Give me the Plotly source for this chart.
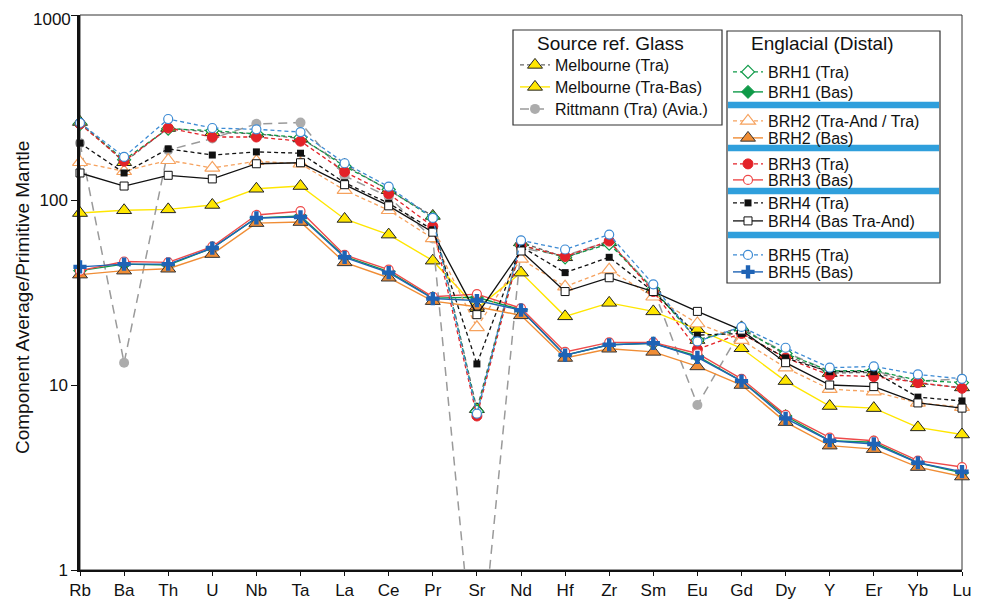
import plotly.graph_objects as go

elements = ["Rb", "Ba", "Th", "U", "Nb", "Ta", "La", "Ce", "Pr", "Sr", "Nd",
            "Hf", "Zr", "Sm", "Eu", "Gd", "Dy", "Y", "Er", "Yb", "Lu"]

melb_tra = [264, 160, 245, 232, 228, 215, 155, 113, 82, 7.4, 59, 49, 59, 33, 17.5, 20.5, 14.5, 11.6, 11.7, 10.2, 9.7]
melb_trabas = [85, 88, 89, 94, 115, 119, 79, 65, 47, 26, 40.5, 23.5, 27.8, 25, 20, 15.8, 10.5, 7.7, 7.5, 5.9, 5.4]
rittmann = [203, 13.2, 186, 215, 258, 262, 135, 104, 62, 0.2, 55, 50, 60, 33, 7.8, 20, 15, 11.9, 11.9, 10.5, 10.8]

brh1_tra = [258, 165, 243, 237, 228, 218, 152, 114, 80, 7.2, 57, 49, 58, 33, 17.5, 20, 14.8, 11.9, 12.0, 10.6, 10.3]
brh1_bas = [41.5, 45, 44.5, 55, 80, 82, 49.5, 41, 29.5, 29.8, 25.5, 14.5, 16.5, 16.8, 14.3, 10.5, 6.8, 5.0, 4.9, 3.8, 3.35]
brh2_tra = [160, 143, 164, 149, 162, 157, 113, 88, 62, 20.5, 48, 34, 42, 30, 21.5, 17.5, 12.4, 9.5, 9.2, 8.0, 7.6]
brh2_bas = [39.5, 41.5, 42.5, 51, 75, 76, 46, 38, 28.4, 26.5, 23.8, 14, 15.7, 15.1, 12.6, 10.0, 6.3, 4.7, 4.5, 3.6, 3.2]
brh3_tra = [258, 162, 245, 219, 219, 208, 142, 108, 72, 6.8, 57, 49.5, 60, 32, 15.6, 19, 14, 11.3, 11.1, 10.3, 9.6]
brh3_bas = [41.5, 46.5, 46, 56, 83, 87, 50.5, 42, 30, 31, 26, 15.1, 17, 17, 14.8, 10.8, 6.9, 5.2, 5.0, 3.9, 3.6]
brh4_tra = [203, 140, 189, 175, 182, 179, 124, 96, 69, 13, 56, 40.5, 49, 32, 18.6, 19, 14, 11.8, 11.8, 8.6, 8.2]
brh4_bas = [140, 119, 136, 130, 157, 159, 121, 93, 67, 24, 53, 32, 38, 32, 25, 19.8, 13.2, 10.0, 9.8, 8.0, 7.5]
brh5_tra = [261, 171, 274, 245, 241, 233, 158, 118, 80, 7.0, 60.5, 54, 65, 35, 17.2, 20.6, 15.9, 12.4, 12.6, 11.4, 10.8]
brh5_bas = [43.5, 45, 45, 55, 80, 81, 49, 40.5, 29.3, 28.6, 25.4, 14.5, 16.5, 16.8, 14.1, 10.5, 6.6, 5.0, 4.8, 3.8, 3.4]

y_tick_vals = [1, 10, 100, 1000]
y_tick_text = ["1", "10", "100", "1000"]

FONT = "Liberation Sans, Arial, Helvetica, sans-serif"
GREEN = "#0f9a48"
ORANGE_L = "#f6a25e"
ORANGE = "#f08d35"
RED = "#e32228"
RED_L = "#ee4a4a"
BLUE_L = "#3d8bd4"
BLUE = "#1f63b5"
YELLOW = "#ffe600"

# plot area in page pixels: x 80..962, y 15..570 (page has an 8px body margin)
def px_x(p):
    return (p - 80) / 882.0


def px_y(p):
    return 1 - (p - 15) / 555.0


LEG_FONT = 16
LEG_OFF = 16          # distance from legend top to the entry's centre line (px)
legend_layouts = {}
fig = go.Figure()


def add(y, name, row_y, left_px, line, marker):
    key = "legend" if not legend_layouts else "legend%d" % (len(legend_layouts) + 1)
    legend_layouts[key] = dict(
        x=px_x(left_px), y=px_y(row_y - LEG_OFF), xanchor="left", yanchor="top",
        bgcolor="rgba(0,0,0,0)", borderwidth=0, font=dict(size=LEG_FONT))
    fig.add_trace(go.Scatter(
        x=elements, y=y, name=name, mode="lines+markers",
        legend=key, line=line, marker=marker, cliponaxis=False))


L1 = 515
L2 = 728
add(melb_tra, "Melbourne (Tra)", 64, L1,
    dict(color="#666666", width=1.3, dash="4px,3px"),
    dict(symbol="triangle-up", size=13, color=YELLOW, line=dict(color="#222", width=1)))
add(melb_trabas, "Melbourne (Tra-Bas)", 86, L1,
    dict(color=YELLOW, width=1.4),
    dict(symbol="triangle-up", size=13, color=YELLOW, line=dict(color="#222", width=1)))
add(rittmann, "Rittmann (Tra) (Avia.)", 108, L1,
    dict(color="#9a9a9a", width=1.5, dash="9px,6px"),
    dict(symbol="circle", size=10, color="#acacac", line=dict(width=0)))

add(brh1_tra, "BRH1 (Tra)", 71, L2,
    dict(color=GREEN, width=1.3, dash="4px,3px"),
    dict(symbol="diamond", size=10, color="white", line=dict(color=GREEN, width=1.2)))
add(brh1_bas, "BRH1 (Bas)", 91, L2,
    dict(color=GREEN, width=1.4),
    dict(symbol="diamond", size=10, color=GREEN, line=dict(color=GREEN, width=1)))
add(brh2_tra, "BRH2 (Tra-And / Tra)", 120, L2,
    dict(color=ORANGE_L, width=1.3, dash="4px,3px"),
    dict(symbol="triangle-up", size=13, color="white", line=dict(color=ORANGE_L, width=1.2)))
add(brh2_bas, "BRH2 (Bas)", 137, L2,
    dict(color=ORANGE, width=1.4),
    dict(symbol="triangle-up", size=13, color=ORANGE, line=dict(color="#333", width=1)))
add(brh3_tra, "BRH3 (Tra)", 163, L2,
    dict(color=RED, width=1.3, dash="4px,3px"),
    dict(symbol="circle", size=10, color=RED, line=dict(color=RED, width=1)))
add(brh3_bas, "BRH3 (Bas)", 179, L2,
    dict(color=RED_L, width=1.4),
    dict(symbol="circle", size=9, color="white", line=dict(color=RED_L, width=1.2)))
add(brh4_tra, "BRH4 (Tra)", 202, L2,
    dict(color="#111111", width=1.3, dash="4px,3px"),
    dict(symbol="square", size=7, color="#111111", line=dict(width=0)))
add(brh4_bas, "BRH4 (Bas Tra-And)", 220, L2,
    dict(color="#111111", width=1.3),
    dict(symbol="square", size=8, color="white", line=dict(color="#111111", width=1)))
add(brh5_tra, "BRH5 (Tra)", 254, L2,
    dict(color=BLUE_L, width=1.3, dash="4px,3px"),
    dict(symbol="circle", size=9, color="white", line=dict(color=BLUE_L, width=1.2)))
add(brh5_bas, "BRH5 (Bas)", 271, L2,
    dict(color=BLUE, width=1.4),
    dict(symbol="cross", size=11, color=BLUE, line=dict(width=0)))

shapes = [
    dict(type="rect", xref="paper", yref="paper", x0=0, x1=1, y0=0, y1=1,
         line=dict(color="#333", width=1), layer="below"),
    dict(type="rect", xref="paper", yref="paper", x0=px_x(513), x1=px_x(722),
         y0=px_y(125), y1=px_y(30), line=dict(color="#333", width=1.2),
         fillcolor="white", layer="above"),
    dict(type="rect", xref="paper", yref="paper", x0=px_x(727), x1=px_x(940),
         y0=px_y(283), y1=px_y(31), line=dict(color="#333", width=1.2),
         fillcolor="white", layer="above"),
]
for yc in [105, 148, 191, 235]:
    shapes.append(dict(type="rect", xref="paper", yref="paper",
                       x0=px_x(728), x1=px_x(939), y0=px_y(yc + 3.3), y1=px_y(yc - 3.3),
                       line=dict(width=0), fillcolor="#2f9fdc", layer="above"))

# the top tick label sits at the very edge of the page; draw it as an annotation
# nudged down a little so it is not clipped
axis_ticktext = y_tick_text[:-1] + [""]
annotations = [
    dict(text="Source ref. Glass", xref="paper", yref="paper", x=px_x(610), y=px_y(43),
         showarrow=False, xanchor="center", yanchor="middle", font=dict(size=19, color="#111")),
    dict(text="Englacial (Distal)", xref="paper", yref="paper", x=px_x(822), y=px_y(43),
         showarrow=False, xanchor="center", yanchor="middle", font=dict(size=19, color="#111")),
    dict(text="Component Average/Primitive Mantle", xref="paper", yref="paper",
         x=px_x(22), y=px_y(298), textangle=-90, showarrow=False,
         xanchor="center", yanchor="middle", font=dict(size=19, color="#111")),
    dict(text=y_tick_text[-1], xref="paper", yref="paper", x=px_x(72), y=px_y(19),
         showarrow=False, xanchor="right", yanchor="middle",
         font=dict(size=17, color="#111"), borderpad=0),
]

fig.update_layout(
    width=988, height=600,
    margin=dict(l=72, r=34, t=7, b=38),
    paper_bgcolor="white", plot_bgcolor="white",
    font=dict(family=FONT, color="#111"),
    showlegend=True,
    shapes=shapes,
    annotations=annotations,
    xaxis=dict(type="category", categoryorder="array", categoryarray=elements,
               range=[0, len(elements) - 1], showline=True, linecolor="#111", linewidth=1.5,
               ticks="outside", ticklen=4, tickcolor="#111", tickfont=dict(size=17),
               showgrid=False, zeroline=False, automargin=False),
    yaxis=dict(type="log", range=[0, 3], tickvals=y_tick_vals, ticktext=axis_ticktext,
               showline=True, linecolor="#111", linewidth=2.5,
               ticks="outside", ticklen=6, tickcolor="#111", tickfont=dict(size=17),
               ticklabeloverflow="allow",
               showgrid=False, zeroline=False, automargin=False),
)
fig.update_layout(**legend_layouts)

fig.write_html("out.html")
